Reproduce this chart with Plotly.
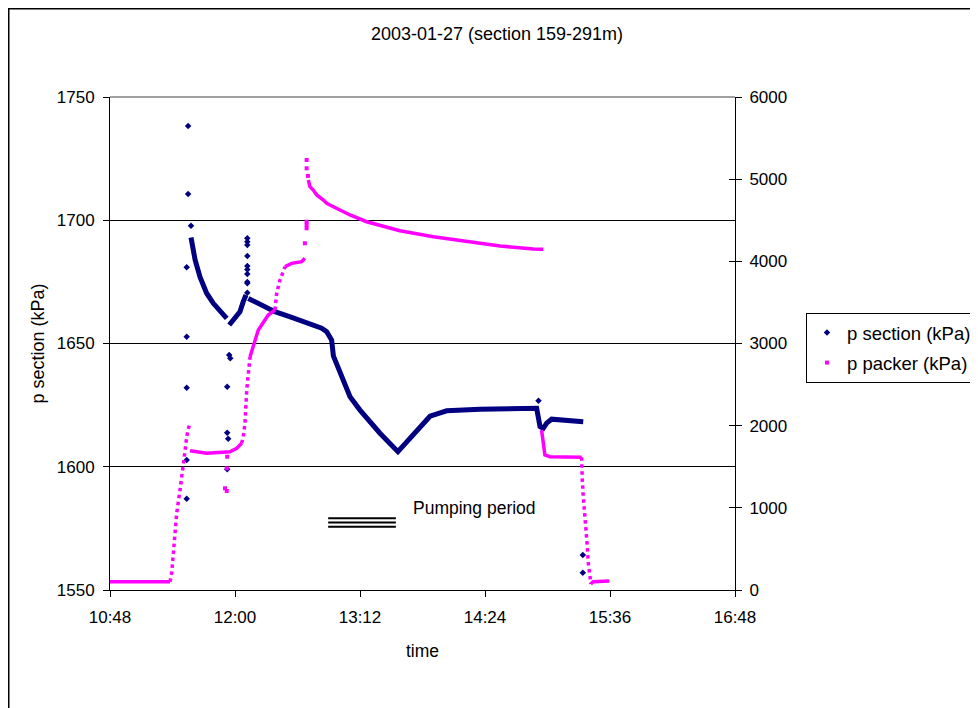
import plotly.graph_objects as go

DATE = "2003-01-27 "

# ---------------- data ----------------
# p section (kPa), left axis -- dense trails
section_decay_t = ["11:34:40", "11:35:06", "11:37:00", "11:39:50", "11:43:40", "11:47:30", "11:53:15", "11:55:15"]
section_decay_v = [1693.0, 1690.6, 1684.0, 1677.0, 1670.4, 1666.3, 1661.6, 1660.2]

section_recovery_t = ["11:56:40", "12:00:00", "12:02:50", "12:04:45", "12:06:20"]
section_recovery_v = [1657.5, 1660.2, 1662.9, 1667.0, 1669.7]

section_main_t = ["12:07:40", "12:12:30", "12:19:10", "12:23:00", "12:32:40", "12:42:15", "12:49:55",
                  "12:52:50", "12:54:45", "12:55:40", "12:56:40", "13:00:30", "13:06:15", "13:12:00",
                  "13:23:30", "13:33:50", "13:46:35", "13:52:20", "14:01:55", "14:21:05", "14:53:45",
                  "14:54:42", "14:55:41", "14:57:34", "14:59:30", "15:02:24", "15:20:35"]
section_main_v = [1668.3, 1666.5, 1664.5, 1662.9, 1660.6, 1658.2, 1656.2,
                  1654.8, 1652.1, 1651.4, 1645.0, 1637.9, 1628.4, 1623.0,
                  1613.6, 1606.1, 1616.3, 1620.5, 1622.7, 1623.3, 1623.7,
                  1618.9, 1616.3, 1615.6, 1617.7, 1619.3, 1618.3]

# p section (kPa) -- isolated readings
section_pts_t = ["11:32:10", "11:32:10", "11:32:10", "11:32:10", "11:32:10", "11:33:00", "11:33:00", "11:34:40",
                 "11:55:30", "11:55:30", "11:56:05", "11:55:30", "11:56:40", "11:57:15",
                 "12:07:05", "12:07:05", "12:07:05", "12:07:05", "12:07:05", "12:07:05", "12:07:05",
                 "12:07:05", "12:07:05", "12:07:05",
                 "14:54:50", "15:20:20", "15:20:20"]
section_pts_v = [1680.9, 1652.7, 1632.0, 1602.7, 1587.0, 1738.2, 1710.6, 1697.8,
                 1632.5, 1613.8, 1611.4, 1599.0, 1645.3, 1644.0,
                 1692.7, 1691.3, 1690.0, 1685.5, 1681.4, 1680.0, 1678.2,
                 1675.0, 1674.4, 1670.6,
                 1626.8, 1564.2, 1557.0]

# p packer (kPa), right axis -- densely logged stretches
packer_base_t = ["10:48:00", "11:22:35"]
packer_base_v = [100, 100]
packer_plateau_t = ["11:34:05", "11:43:40", "11:57:05", "12:01:00", "12:03:50"]
packer_plateau_v = [1695, 1664, 1683, 1725, 1786]
packer_inflate_t = ["12:08:40", "12:13:25", "12:19:10", "12:23:00"]
packer_inflate_v = [2840, 3164, 3347, 3408]
packer_top_t = ["12:28:50", "12:32:40", "12:38:25", "12:40:15"]
packer_top_v = [3935, 3976, 3996, 4037]
packer_decay_t = ["12:42:15", "12:43:10", "12:45:05", "12:47:05", "12:50:55", "12:52:50", "12:56:40",
                  "13:06:15", "13:15:50", "13:25:25", "13:35:00", "13:54:15", "14:13:30", "14:32:40",
                  "14:51:50", "14:57:35"]
packer_decay_v = [4990, 4908, 4868, 4807, 4746, 4706, 4665, 4564, 4482, 4422, 4373, 4300, 4239, 4187,
                  4150, 4147]
packer_release_t = ["14:56:35", "14:57:35", "14:58:30", "15:01:25", "15:19:40"]
packer_release_v = [1947, 1744, 1643, 1622, 1615]
packer_tail_t = ["15:24:55", "15:26:20", "15:35:35"]
packer_tail_v = [73, 101, 110]

# p packer (kPa) -- sparsely logged fast changes
packer_rise_t = ["11:22:35", "11:23:30", "11:24:30", "11:25:25", "11:26:25", "11:28:20", "11:30:15",
                 "11:31:10", "11:32:10", "11:33:40"]
packer_rise_v = [100, 203, 447, 730, 934, 1217, 1500, 1683, 1866, 2008]
packer_climb_t = ["12:03:50", "12:04:45", "12:05:45", "12:06:20", "12:06:45", "12:08:40"]
packer_climb_v = [1786, 1866, 2029, 2231, 2434, 2840]
packer_step_t = ["12:23:00", "12:24:00", "12:25:55", "12:28:50"]
packer_step_v = [3408, 3611, 3773, 3935]
packer_deflate_t = ["15:19:40", "15:19:45", "15:20:00", "15:20:35", "15:21:35", "15:22:10", "15:22:55",
                    "15:23:30", "15:24:30", "15:24:55"]
packer_deflate_v = [1615, 1501, 1360, 1136, 934, 730, 527, 325, 162, 73]

# p packer (kPa) -- isolated readings
packer_pts_t = ["11:54:15", "11:55:15", "11:55:15", "11:55:30", "12:40:15", "12:41:15", "12:41:15",
                "12:41:15", "12:41:15", "12:41:15", "12:42:00"]
packer_pts_v = [1238, 1205, 1481, 1622, 4220, 4482, 4442, 4402, 5233, 5132, 5040]

# pumping period marker
pumping_start = "12:53:40"
pumping_end = "13:32:40"
pumping_levels = [1579.1, 1577.4, 1575.7]
pumping_label = "Pumping period"
pumping_label_t = "14:17:40"
pumping_label_v = 1583.4

x_range = ["10:48:00", "16:48:00"]
left_range = [1550, 1750]
right_range = [0, 6000]

# ---------------- helpers ----------------
def ts(lst):
    return [DATE + t for t in lst]


def join(*segs):
    xs, ys = [], []
    for t, v in segs:
        if xs:
            xs.append(None)
            ys.append(None)
        xs.extend(ts(t))
        ys.extend(v)
    return xs, ys


NAVY = "#000080"
MAGENTA = "#FF00FF"
FONT = "Arial, 'Liberation Sans', sans-serif"

fig = go.Figure()

# packer first (drawn underneath), legend order fixed by legendrank
pdx, pdy = join((packer_base_t, packer_base_v), (packer_plateau_t, packer_plateau_v),
                (packer_inflate_t, packer_inflate_v), (packer_top_t, packer_top_v),
                (packer_decay_t, packer_decay_v), (packer_release_t, packer_release_v),
                (packer_tail_t, packer_tail_v))
fig.add_trace(go.Scatter(x=pdx, y=pdy, mode="lines", line=dict(color=MAGENTA, width=3.5),
                         yaxis="y2", showlegend=False, hoverinfo="skip"))
psx, psy = join((packer_rise_t, packer_rise_v), (packer_climb_t, packer_climb_v),
                (packer_step_t, packer_step_v), (packer_deflate_t, packer_deflate_v))
fig.add_trace(go.Scatter(x=psx, y=psy, mode="lines", line=dict(color=MAGENTA, width=3.5, dash="dot"),
                         yaxis="y2", showlegend=False, hoverinfo="skip"))
fig.add_trace(go.Scatter(x=ts(packer_pts_t), y=packer_pts_v, mode="markers", name="p packer (kPa)",
                         marker=dict(color=MAGENTA, symbol="square", size=4), yaxis="y2",
                         legendrank=2, legendgroup="b"))

sx, sy = join((section_decay_t, section_decay_v), (section_recovery_t, section_recovery_v),
              (section_main_t, section_main_v))
fig.add_trace(go.Scatter(x=sx, y=sy, mode="lines", line=dict(color=NAVY, width=5),
                         showlegend=False, hoverinfo="skip"))
fig.add_trace(go.Scatter(x=ts(section_pts_t), y=section_pts_v, mode="markers", name="p section (kPa)",
                         marker=dict(color=NAVY, symbol="diamond", size=5), legendrank=1,
                         legendgroup="a"))
# carrier for the inner half of the right-axis cross ticks
fig.add_trace(go.Scatter(x=[], y=[], yaxis="y3", showlegend=False, hoverinfo="skip"))

W, H = 970, 700
ML, MT, PW, PH = 102, 89, 625, 493


def px_x(p):
    return (p - ML) / PW


def px_y(p):
    return (MT + PH - p) / PH


shapes = []
for lvl in pumping_levels:
    shapes.append(dict(type="line", xref="x", yref="y", x0=DATE + pumping_start, x1=DATE + pumping_end,
                       y0=lvl, y1=lvl, line=dict(color="black", width=2)))
# gray top border of plot area
shapes.append(dict(type="line", xref="paper", yref="paper", x0=0, x1=1, y0=1, y1=1,
                   line=dict(color="#808080", width=1.5)))
# outer chart frame
shapes.append(dict(type="rect", xref="paper", yref="paper", x0=px_x(0.75), x1=px_x(W + 20),
                   y0=px_y(H + 20), y1=px_y(0.75), line=dict(color="black", width=1.5), layer="below"))

fig.update_layout(
    width=W, height=H,
    margin=dict(l=ML, r=W - ML - PW, t=MT, b=H - MT - PH, pad=0, autoexpand=False),
    paper_bgcolor="white", plot_bgcolor="white",
    font=dict(family=FONT, size=17, color="black"),
    title=dict(text="2003-01-27 (section 159-291m)", x=px_x(489), xref="paper", xanchor="center",
               y=1 - 26 / H, yref="container", yanchor="middle", font=dict(size=18)),
    xaxis=dict(type="date", range=[DATE + x_range[0], DATE + x_range[1]], tick0=DATE + x_range[0],
               dtick=72 * 60 * 1000, tickformat="%H:%M", showgrid=False, zeroline=False,
               showline=True, linecolor="black", linewidth=1, ticks="outside", ticklen=6,
               tickcolor="black", ticklabelstandoff=6,
               title=dict(text="time", standoff=18, font=dict(size=17.5))),
    yaxis=dict(range=left_range, dtick=50, showgrid=True, gridcolor="black", gridwidth=1,
               zeroline=False, showline=True, linecolor="black", linewidth=1, ticks="outside",
               ticklen=6, tickcolor="black", ticklabelstandoff=5,
               title=dict(text="p section (kPa)", standoff=7, font=dict(size=18))),
    yaxis2=dict(range=right_range, dtick=1000, overlaying="y", side="right", showgrid=False,
                zeroline=False, showline=True, linecolor="black", linewidth=1, ticks="outside",
                ticklen=6, tickcolor="black", ticklabelstandoff=4),
    yaxis3=dict(range=right_range, dtick=1000, overlaying="y", side="right", showgrid=False,
                zeroline=False, showline=False, ticks="inside", ticklen=6, tickcolor="black",
                showticklabels=False),
    legend=dict(x=px_x(798), xanchor="left", y=px_y(305), yanchor="top", bordercolor="black",
                borderwidth=1, bgcolor="white", font=dict(size=18.5), itemwidth=30,
                traceorder="grouped", tracegroupgap=3),
    shapes=shapes,
    annotations=[dict(x=DATE + pumping_label_t, y=pumping_label_v, xref="x", yref="y", text=pumping_label,
                      showarrow=False, font=dict(size=17.5))],
)

fig.write_html("out.html")
